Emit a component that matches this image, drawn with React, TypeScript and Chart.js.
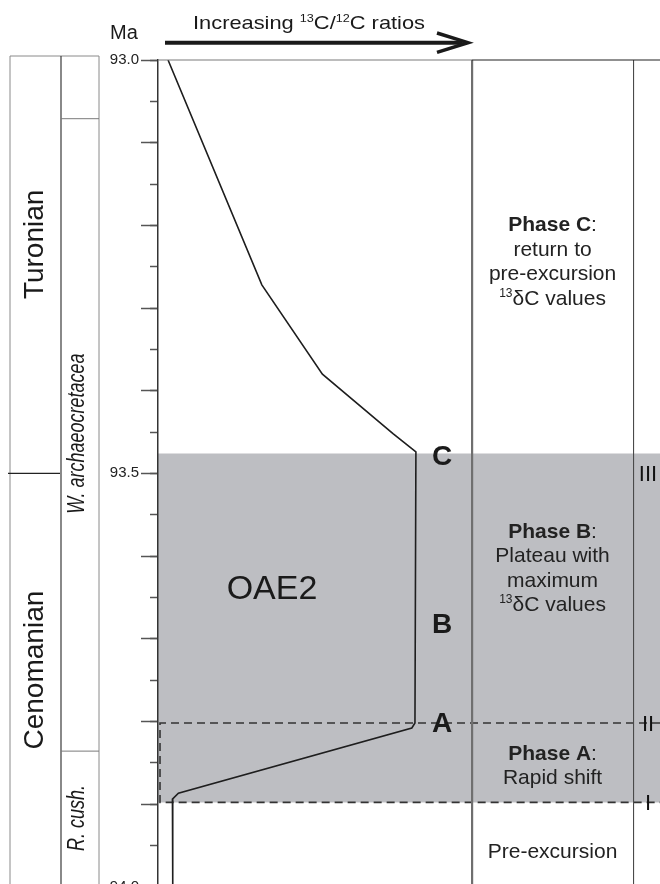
import React, { useEffect, useRef } from 'react';
import { Chart, registerables } from 'chart.js';

Chart.register(...registerables);

// ---------- data ----------
const AGE_MIN = 93.0;
const AGE_MAX = 94.0;
const LABELED_AGES = [93.0, 93.5, 94.0];
const MAJOR_STEP = 0.1;
const MINOR_STEP = 0.05;

// relative 13C/12C (0 = left axis, 100 = right edge of the curve panel)
const CURVE_X = [3.2, 33.1, 52.4, 74.9, 82.2, 81.9, 80.9, 6.5, 4.6, 4.7];
const CURVE_AGE = [93.0, 93.272, 93.38, 93.452, 93.474, 93.802, 93.808, 93.887, 93.894, 94.0];

const OAE2_TOP = 93.476;
const OAE2_BASE = 93.898;
const PHASE_BOUNDS = [93.802, 93.898]; // II, I
const PHASE_LEFT_X = 0.64;

const PANEL_DIVIDERS = [100, 151.5];
const X_MAX = 160;

const STAGES = ['Turonian', 'Cenomanian'];
const STAGE_LABEL_AGES = [93.223, 93.738];
const STAGE_BOUNDARY = 93.5;

const ZONES = ['W. archaeocretacea', 'R. cush.'];
const ZONE_LABEL_AGES = [93.452, 93.917];
const ZONE_BOUNDS = [93.071, 93.836];

const POINT_LABELS = ['C', 'B', 'A'];
const POINT_LABEL_AGES = [93.478, 93.681, 93.801];

const NUMERALS = ['III', 'II', 'I'];
const NUMERAL_AGES = [93.5, 93.802, 93.898];

type Run = { t: string; b?: boolean; i?: boolean; sup?: boolean };
const PHASE_TEXT_AGES = [93.198, 93.569, 93.837, 93.956];
const PHASE_TEXTS: Run[][][] = [
  [[{ t: 'Phase C', b: true }, { t: ':' }], [{ t: 'return to' }], [{ t: 'pre-excursion' }], [{ t: '13', sup: true }, { t: 'δC values' }]],
  [[{ t: 'Phase B', b: true }, { t: ':' }], [{ t: 'Plateau with' }], [{ t: 'maximum' }], [{ t: '13', sup: true }, { t: 'δC values' }]],
  [[{ t: 'Phase A', b: true }, { t: ':' }], [{ t: 'Rapid shift' }]],
  [[{ t: 'Pre-excursion' }]],
];
const HEADER_RUNS: Run[] = [{ t: 'Increasing ' }, { t: '13', sup: true }, { t: 'C/' }, { t: '12', sup: true }, { t: 'C ratios' }];
const AXIS_UNIT = 'Ma';
const EVENT_LABEL = 'OAE2';

// ---------- styles / layout ----------
const FONT = '"Liberation Sans", Arial, Helvetica, sans-serif';
const TEXT_COLOR = '#222';

function fontOf(r: Run, size: number) {
  const s = r.sup ? Math.round(size * 0.58) : size;
  return `${r.i ? 'italic ' : ''}${r.b ? 'bold ' : ''}${s}px ${FONT}`;
}

function drawRich(ctx: CanvasRenderingContext2D, runs: Run[], x: number, cy: number, size: number, align: 'center' | 'left', targetWidth?: number) {
  let w = 0;
  for (const r of runs) {
    ctx.font = fontOf(r, size);
    w += ctx.measureText(r.t).width;
  }
  const k = targetWidth ? targetWidth / w : 1;
  const startX = align === 'center' ? x - (w * k) / 2 : x;
  const base = cy + size * 0.36;
  ctx.save();
  ctx.translate(startX, 0);
  ctx.scale(k, 1);
  ctx.textAlign = 'left';
  ctx.textBaseline = 'alphabetic';
  let cx = 0;
  for (const r of runs) {
    ctx.font = fontOf(r, size);
    ctx.fillText(r.t, cx, r.sup ? base - size * 0.38 : base);
    cx += ctx.measureText(r.t).width;
  }
  ctx.restore();
}

function drawVertical(ctx: CanvasRenderingContext2D, text: string, baseX: number, cy: number, font: string, stretch = 1) {
  ctx.save();
  ctx.translate(baseX, cy);
  ctx.rotate(-Math.PI / 2);
  ctx.scale(1, stretch);
  ctx.font = font;
  ctx.textAlign = 'center';
  ctx.textBaseline = 'alphabetic';
  ctx.fillText(text, 0, 0);
  ctx.restore();
}

const overlayPlugin = {
  id: 'overlay',
  afterDraw(chart: any) {
    const ctx: CanvasRenderingContext2D = chart.ctx;
    const ys = chart.scales.y;
    const xs = chart.scales.x;
    const py = (a: number) => ys.getPixelForValue(a);
    const px = (v: number) => xs.getPixelForValue(v);
    const top = py(AGE_MIN);
    const H = chart.height;
    ctx.save();
    ctx.fillStyle = TEXT_COLOR;

    // top frame line
    ctx.lineWidth = 1.2;
    ctx.strokeStyle = '#7a7a7a';
    ctx.beginPath();
    ctx.moveTo(px(0), top);
    ctx.lineTo(px(PANEL_DIVIDERS[0]), top);
    ctx.stroke();
    ctx.strokeStyle = '#222';
    ctx.lineWidth = 1.1;
    ctx.beginPath();
    ctx.moveTo(px(PANEL_DIVIDERS[0]), top);
    ctx.lineTo(px(X_MAX), top);
    ctx.stroke();

    // left stratigraphic columns
    const colL = 10, colM = 61, colR = 99, colTop = 56;
    ctx.lineWidth = 1;
    ctx.strokeStyle = '#8a8a8a';
    ctx.beginPath();
    ctx.moveTo(colL, H); ctx.lineTo(colL, colTop); ctx.lineTo(colR, colTop); ctx.lineTo(colR, H);
    ctx.stroke();
    ctx.strokeStyle = '#3a3a3a';
    ctx.lineWidth = 1.2;
    ctx.beginPath();
    ctx.moveTo(colM, colTop); ctx.lineTo(colM, H);
    ctx.stroke();
    ctx.strokeStyle = '#222';
    ctx.lineWidth = 1.1;
    ctx.beginPath();
    ctx.moveTo(8, py(STAGE_BOUNDARY)); ctx.lineTo(60, py(STAGE_BOUNDARY));
    ctx.stroke();
    ctx.strokeStyle = '#7a7a7a';
    ctx.lineWidth = 1;
    for (const zb of ZONE_BOUNDS) {
      ctx.beginPath();
      ctx.moveTo(colM, py(zb)); ctx.lineTo(colR, py(zb));
      ctx.stroke();
    }
    ctx.fillStyle = '#1a1a1a';
    STAGES.forEach((s, i) => drawVertical(ctx, s, 43, py(STAGE_LABEL_AGES[i]), `28px ${FONT}`));
    ZONES.forEach((z, i) => drawVertical(ctx, z, 84, py(ZONE_LABEL_AGES[i]), `italic 18px ${FONT}`, 1.3));

    // header
    ctx.fillStyle = '#1a1a1a';
    ctx.font = `20px ${FONT}`;
    ctx.textAlign = 'center';
    ctx.textBaseline = 'middle';
    ctx.fillText(AXIS_UNIT, 124, 33);
    drawRich(ctx, HEADER_RUNS, 193, 22, 19, 'left', 232);
    ctx.strokeStyle = '#1a1a1a';
    ctx.lineWidth = 4;
    ctx.beginPath();
    ctx.moveTo(165, 42.7); ctx.lineTo(462, 42.7);
    ctx.stroke();
    ctx.lineWidth = 3.5;
    ctx.lineJoin = 'miter';
    ctx.beginPath();
    ctx.moveTo(437, 33); ctx.lineTo(468, 42.7); ctx.lineTo(437, 52.4);
    ctx.stroke();

    // event label
    ctx.fillStyle = '#1a1a1a';
    ctx.font = `34px ${FONT}`;
    ctx.textAlign = 'center';
    ctx.textBaseline = 'alphabetic';
    ctx.fillText(EVENT_LABEL, 272, 587 + 34 * 0.36);

    // A/B/C
    ctx.font = `bold 28px ${FONT}`;
    POINT_LABELS.forEach((l, i) => ctx.fillText(l, 442, py(POINT_LABEL_AGES[i]) + 28 * 0.36));

    // phase texts
    const phaseCx = (px(PANEL_DIVIDERS[0]) + px(PANEL_DIVIDERS[1])) / 2;
    ctx.fillStyle = '#222';
    PHASE_TEXTS.forEach((lines, i) => {
      const y0 = py(PHASE_TEXT_AGES[i]);
      lines.forEach((runs, j) => drawRich(ctx, runs, phaseCx, y0 + j * 24.5, 21, 'center'));
    });

    // roman numerals
    ctx.fillStyle = '#111';
    ctx.font = `22px ${FONT}`;
    ctx.textAlign = 'center';
    NUMERALS.forEach((n, i) => ctx.fillText(n, 648, py(NUMERAL_AGES[i]) + 22 * 0.36));

    ctx.restore();
  },
};

export default function App() {
  const ref = useRef<HTMLCanvasElement | null>(null);
  useEffect(() => {
    if (!ref.current) return;
    const chart = new Chart(ref.current, {
      type: 'line',
      data: {
        datasets: [
          {
            label: 'OAE2',
            data: [
              { x: 0, y: OAE2_TOP },
              { x: X_MAX, y: OAE2_TOP },
              { x: X_MAX, y: OAE2_BASE },
              { x: 0, y: OAE2_BASE },
              { x: 0, y: OAE2_TOP },
            ],
            fill: 'shape',
            backgroundColor: '#bdbec2',
            borderColor: 'rgba(0,0,0,0)',
            borderWidth: 1,
            pointRadius: 0,
            order: 3,
            xAxisID: 'x',
            yAxisID: 'y',
          },
          {
            label: 'Phase A bounds',
            data: [
              { x: X_MAX, y: PHASE_BOUNDS[0] },
              { x: PHASE_LEFT_X, y: PHASE_BOUNDS[0] },
              { x: PHASE_LEFT_X, y: PHASE_BOUNDS[1] },
              { x: X_MAX, y: PHASE_BOUNDS[1] },
            ],
            borderColor: '#333',
            borderWidth: 1.6,
            borderDash: [8, 5],
            pointRadius: 0,
            fill: false,
            order: 2,
            xAxisID: 'x',
            yAxisID: 'y',
          },
          {
            label: '13C/12C',
            data: CURVE_X.map((v, i) => ({ x: v, y: CURVE_AGE[i] })),
            borderColor: '#1e1e1e',
            borderWidth: 1.6,
            pointRadius: 0,
            fill: false,
            order: 1,
            xAxisID: 'x',
            yAxisID: 'y',
          },
        ],
      },
      options: {
        responsive: false,
        animation: false,
        devicePixelRatio: 1,
        layout: { padding: { left: 0, right: 0, top: 60, bottom: 13.3 } },
        elements: { line: { tension: 0 }, point: { radius: 0 } },
        plugins: { legend: { display: false }, tooltip: { enabled: false }, title: { display: false } },
        scales: {
          x: {
            type: 'linear',
            position: 'top',
            min: 0,
            max: X_MAX,
            afterBuildTicks: (s: any) => {
              s.ticks = PANEL_DIVIDERS.map((v) => ({ value: v }));
            },
            afterFit: (s: any) => {
              s.height = 0;
            },
            ticks: { display: false },
            border: { display: false },
            grid: {
              z: 1,
              drawTicks: false,
              color: (c: any) => (c.index === 0 ? '#6f6f6f' : '#4a4a4a'),
              lineWidth: (c: any) => (c.index === 0 ? 2.2 : 1.1),
            },
          },
          y: {
            type: 'linear',
            position: 'left',
            reverse: true,
            min: AGE_MIN,
            max: AGE_MAX,
            weight: 1,
            afterFit: (s: any) => {
              s.width = 158;
            },
            ticks: {
              stepSize: MAJOR_STEP,
              autoSkip: false,
              padding: 2,
              color: '#222',
              font: { family: FONT, size: 15 },
              callback: (v: any) => (LABELED_AGES.some((a) => Math.abs(a - Number(v)) < 1e-6) ? Number(v).toFixed(1) : ''),
            },
            grid: { drawOnChartArea: false, tickLength: 17, tickColor: '#555', tickWidth: 1.5 },
            border: { display: true, color: '#333', width: 1.5, z: 1 },
          },
          yMinor: {
            type: 'linear',
            position: 'left',
            reverse: true,
            min: AGE_MIN,
            max: AGE_MAX,
            weight: 0,
            afterFit: (s: any) => {
              s.width = 0;
            },
            ticks: { display: false, stepSize: MINOR_STEP, autoSkip: false },
            grid: { drawOnChartArea: false, tickLength: 8, tickColor: '#555', tickWidth: 1.5 },
            border: { display: false },
          },
        },
      } as any,
      plugins: [overlayPlugin],
    });
    return () => chart.destroy();
  }, []);
  return (
    <div style={{ position: 'absolute', left: 0, top: 0, width: 660, height: 884, overflow: 'hidden', background: '#fff' }}>
      <canvas ref={ref} width={660} height={900} style={{ display: 'block' }} />
    </div>
  );
}
